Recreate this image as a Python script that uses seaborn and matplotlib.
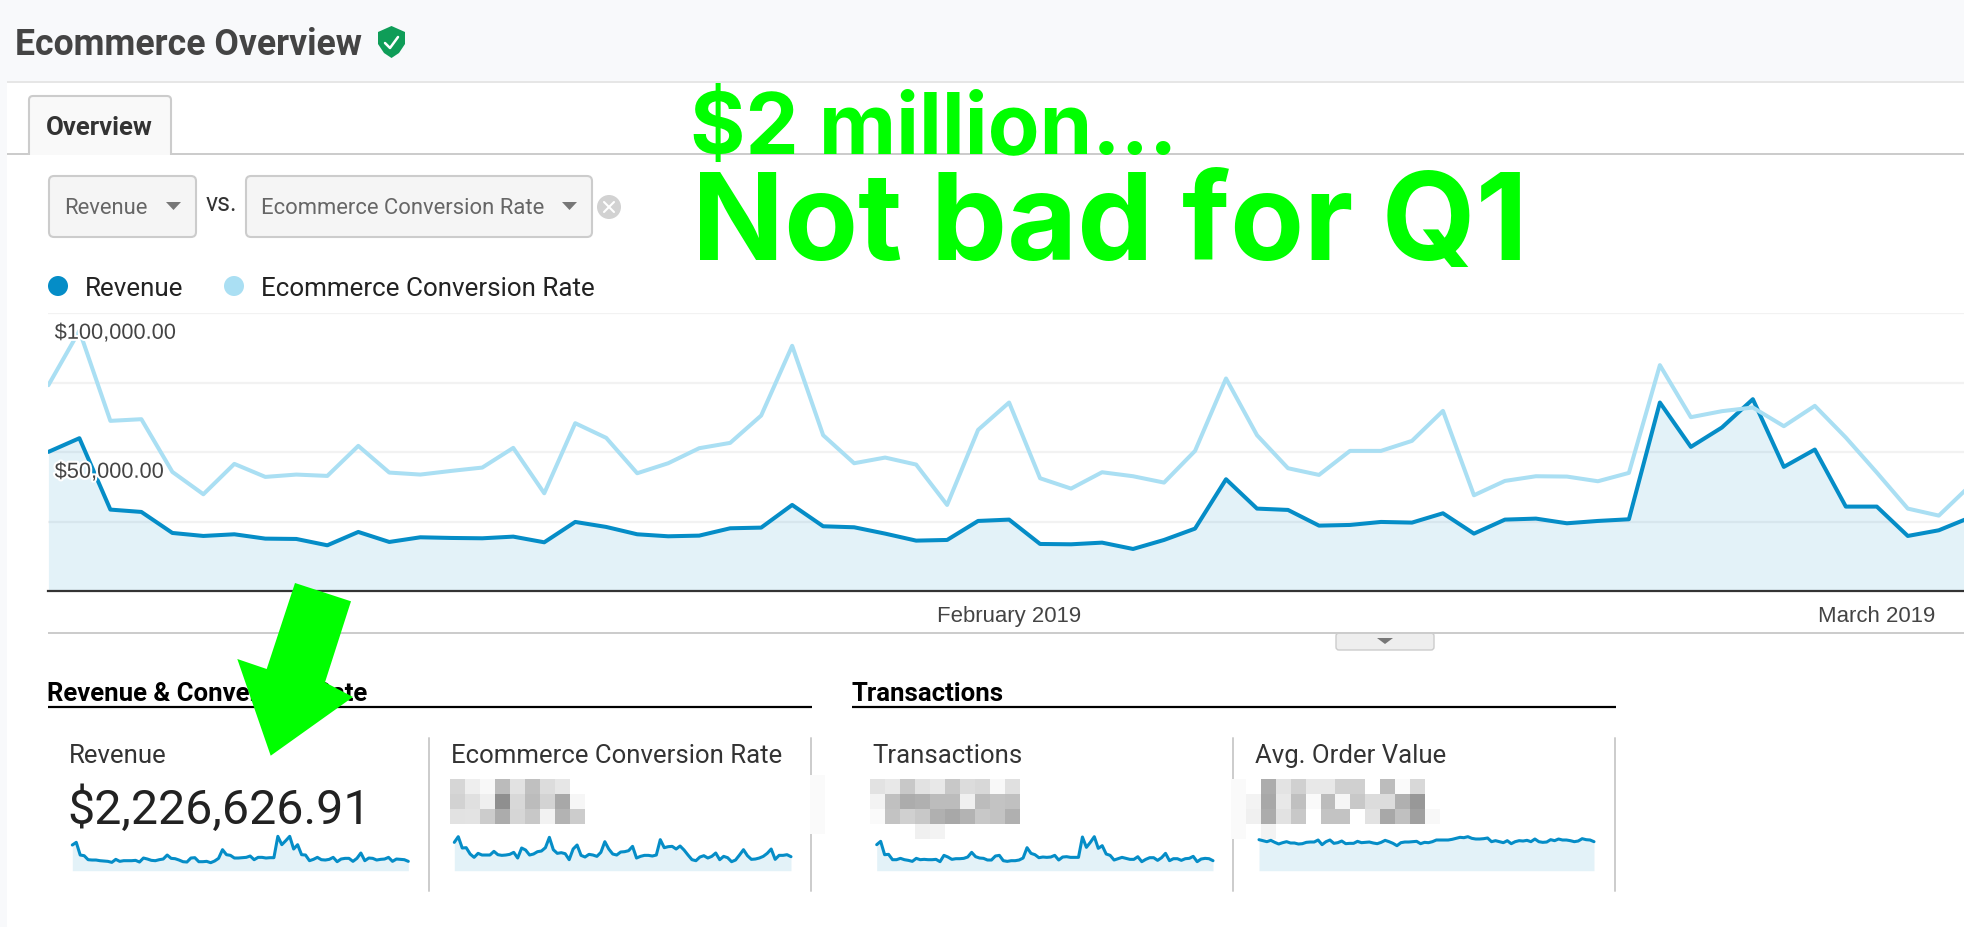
import numpy as np
import pandas as pd
import seaborn as sns
import matplotlib.pyplot as plt
import matplotlib.patheffects as pe
from matplotlib.patches import FancyBboxPatch, Polygon, Rectangle, Circle

W, H = 1965, 928

# main chart, one value per day from 1 Jan 2019
revenue = [50040, 54960, 29280, 28440, 20880, 19800, 20400, 18840, 18720, 16440,
           21240, 17640, 19320, 19080, 18960, 19560, 17520, 24840, 23040, 20400,
           19680, 19920, 22560, 22800, 30960, 23280, 22920, 20640, 18120, 18360,
           25200, 25680, 16920, 16800, 17400, 15120, 18360, 22440, 40200, 29640,
           29160, 23520, 23760, 24840, 24600, 27960, 20640, 25680, 26040, 24360,
           25200, 25800, 67800, 51840, 58800, 69000, 44640, 50880, 30360, 30360,
           19800, 21840, 26400]
# conversion rate has no visible axis, kept in the height of the revenue scale
conversion = [74040, 93600, 61200, 61800, 42840, 34800, 45720, 41040, 41880, 41400,
              52200, 42600, 41880, 43200, 44400, 51480, 35160, 60360, 55080, 42360,
              45960, 51360, 53280, 63120, 88200, 56040, 45960, 48000, 45480, 30960,
              57960, 67800, 40560, 36840, 42720, 41280, 39000, 50400, 76440, 56040,
              44160, 41760, 50400, 50400, 54000, 64800, 34440, 39600, 41280, 41160,
              39480, 42480, 81240, 62520, 64680, 66000, 59280, 66600, 55200, 42600,
              29640, 27120, 37800]

# sparklines, relative height only
spark_revenue = [77, 85, 47, 45, 33, 32, 32, 30, 29, 28, 25, 34, 28, 30, 30, 30, 31, 26, 38, 35,
                 31, 30, 33, 35, 47, 37, 36, 32, 27, 26, 38, 39, 27, 27, 28, 24, 29, 37, 63, 48,
                 46, 38, 38, 39, 40, 44, 33, 40, 40, 38, 39, 39, 103, 78, 90, 103, 65, 78, 48, 47,
                 30, 34, 40, 33, 32, 34, 40, 27, 35, 37, 37, 28, 37, 53, 30, 38, 37, 32, 34, 35,
                 40, 28, 35, 34, 33, 28]
spark_conversion = [85, 102, 68, 69, 50, 40, 52, 47, 47, 47, 58, 48, 46, 47, 49, 55, 38, 68, 62, 47,
                    50, 57, 59, 69, 100, 63, 52, 54, 51, 33, 65, 77, 46, 41, 49, 47, 43, 55, 87, 65,
                    50, 47, 56, 57, 60, 73, 38, 43, 46, 46, 44, 47, 93, 69, 72, 73, 65, 74, 62, 47,
                    33, 30, 41, 45, 38, 43, 53, 33, 43, 39, 27, 32, 47, 63, 45, 34, 35, 38, 43, 52,
                    65, 34, 46, 46, 48, 42]
spark_transactions = [78, 88, 48, 49, 33, 33, 37, 33, 31, 28, 37, 33, 34, 33, 33, 34, 27, 46, 41, 34,
                      36, 36, 37, 41, 55, 42, 38, 37, 32, 32, 44, 46, 30, 28, 30, 30, 32, 38, 69, 52,
                      48, 39, 41, 40, 41, 46, 32, 41, 42, 40, 40, 40, 101, 70, 85, 102, 67, 75, 50, 46,
                      32, 36, 40, 37, 34, 34, 42, 27, 34, 39, 39, 31, 39, 52, 30, 36, 36, 31, 36, 37,
                      43, 27, 35, 37, 36, 30]
spark_order_value = [93, 90, 87, 91, 85, 80, 84, 87, 83, 83, 80, 81, 85, 86, 86, 92, 78, 87, 92, 82,
                     84, 89, 81, 82, 82, 88, 84, 85, 86, 83, 81, 85, 91, 87, 82, 75, 84, 86, 86, 87,
                     88, 81, 85, 84, 87, 92, 92, 92, 92, 94, 97, 100, 99, 102, 97, 95, 95, 96, 98, 87,
                     90, 87, 84, 90, 81, 87, 90, 89, 91, 87, 95, 87, 85, 86, 93, 90, 95, 92, 92, 90,
                     87, 89, 96, 93, 92, 87]

# the blurred numbers under the card titles, grey level per block
blur_conversion = [[0xd6, 0xee, 0xf8, 0xbb, 0xe2, 0xc0, 0xdc, 0xe6, 0xff],
                   [0xd2, 0xe0, 0xef, 0x8f, 0xd8, 0xbc, 0xd4, 0xa8, 0xf6],
                   [0xe2, 0xe4, 0xcc, 0xac, 0xd6, 0xc8, 0xf2, 0xb4, 0xcc]]
blur_transactions = [[0xe2, 0xe8, 0xc8, 0xe2, 0xe8, 0xc8, 0xdc, 0xd8, 0xf8, 0xe0],
                     [0xf4, 0xc0, 0xac, 0xb0, 0xbc, 0xbc, 0xf0, 0xbc, 0xc4, 0xc0],
                     [0xfa, 0xc4, 0xd0, 0xc8, 0xb0, 0xa8, 0xb4, 0xc8, 0xc4, 0xb0],
                     [0xff, 0xff, 0xff, 0xf0, 0xf4, 0xff, 0xff, 0xff, 0xff, 0xff]]
blur_order_value = [[0xfa, 0xff, 0xac, 0xe4, 0xd0, 0xe8, 0xe8, 0xd0, 0xd0, 0xff, 0xbc, 0xfa, 0xd8, 0xff],
                    [0xfa, 0xf4, 0xa8, 0xe8, 0xc0, 0xfa, 0xbc, 0xf6, 0xc8, 0xdc, 0xdc, 0xb0, 0x98, 0xff],
                    [0xfa, 0xf0, 0xac, 0xe2, 0xc8, 0xff, 0xc4, 0xc4, 0xff, 0xe2, 0xa8, 0xc0, 0xa0, 0xf8],
                    [0xfa, 0xff, 0xf4, 0xff, 0xff, 0xff, 0xff, 0xff, 0xff, 0xff, 0xff, 0xff, 0xff, 0xff]]

BLUE = '#058dc7'
LIGHT = '#aadff3'
GREEN = '#00ff00'

sns.set_theme(style='white')
plt.rcParams['font.family'] = ['Roboto', 'DejaVu Sans']

fig = plt.figure(figsize=(W / 100, H / 100), dpi=100, facecolor='white')


def px_axes(x0, y0, x1, y1, zorder=1):
    # axes from pixel box, y counted from the top
    return fig.add_axes([x0 / W, 1 - y1 / H, (x1 - x0) / W, (y1 - y0) / H], zorder=zorder)


def hline(ax, x0, x1, y, color, lw=2, **kw):
    ax.plot([x0, x1], [y, y], color=color, lw=lw * 0.72, solid_capstyle='butt', **kw)


page = px_axes(0, 0, W, H, zorder=0)
page.set_xlim(0, W)
page.set_ylim(H, 0)
page.axis('off')
top = px_axes(0, 0, W, H, zorder=3)
top.set_xlim(0, W)
top.set_ylim(H, 0)
top.axis('off')


def label(x, y, s, size, color='#333333', weight='normal', ax=page, **kw):
    ax.text(x, y, s, fontsize=size, color=color, fontweight=weight, va='center', ha='left', **kw)


# page background and header
page.add_patch(Rectangle((0, 0), W, H, fc='#f8f9fb', ec='none'))
page.add_patch(Rectangle((7, 82), W, H, fc='white', ec='none'))
hline(page, 7, W, 82.5, '#e6e6e6', 2)
label(15, 45, 'Ecommerce Overview', 25.7, '#444444', 'bold')
page.add_patch(Polygon([(391.5, 27), (405, 33), (405, 45), (399, 54), (391.5, 59), (384, 54), (378, 45), (378, 33)],
                       fc='#0f9d58', ec='none'))
page.plot([385, 390, 398], [44, 49, 38], color='white', lw=1.8)

# tab
page.add_patch(FancyBboxPatch((29, 97), 142, 68, boxstyle='round,pad=0,rounding_size=4', fc='#f9f9f9', ec='#cccccc', lw=1.5))
page.add_patch(Rectangle((20, 156), 160, 16, fc='white', ec='none', zorder=2))
label(46, 128, 'Overview', 18.5, '#333333', 'bold')

# dropdowns
for x0, x1, text, ax0 in [(49, 196, 'Revenue', 166), (246, 592, 'Ecommerce Conversion Rate', 562)]:
    page.add_patch(FancyBboxPatch((x0, 177), x1 - x0, 61, boxstyle='round,pad=0,rounding_size=5',
                                  fc='#f5f5f5', ec='#cccccc', lw=1.5))
    label(x0 + 15, 209, text, 15.8, '#666666')
    page.add_patch(Polygon([(ax0, 203), (ax0 + 15, 203), (ax0 + 7.5, 211)], fc='#777777', ec='none'))
label(206, 204, 'vs.', 18, '#333333')
page.add_patch(Circle((609, 208), 12, fc='#d2d2d2', ec='none'))
page.plot([604, 614], [203, 213], color='white', lw=1.5)
page.plot([604, 614], [213, 203], color='white', lw=1.5)

# legend
page.add_patch(Circle((58, 287), 10, fc=BLUE, ec='none'))
label(85, 289, 'Revenue', 18.7, '#222222')
page.add_patch(Circle((234, 287), 10, fc=LIGHT, ec='none'))
label(261, 289, 'Ecommerce Conversion Rate', 18.7, '#222222')

# main chart
day_px = 30.99
dates = pd.date_range('2019-01-01', periods=len(revenue))
df = pd.DataFrame({'date': dates, 'Revenue': revenue, 'Conversion': conversion})
ax = px_axes(48.4, 314, W, 592, zorder=1)
ax.patch.set_alpha(0)
ax.fill_between(df['date'], df['Revenue'], color=BLUE, alpha=0.11, lw=0, zorder=2)
sns.lineplot(data=df, x='date', y='Revenue', ax=ax, color=BLUE, lw=2.9, errorbar=None, zorder=3)
sns.lineplot(data=df, x='date', y='Conversion', ax=ax, color=LIGHT, lw=2.9, errorbar=None, zorder=4)
ax.set_xlim(dates[0], dates[0] + pd.Timedelta(days=(W - 48.4) / day_px))
ax.set_ylim(0, 100000)
ax.set_xlabel('')
ax.set_ylabel('')
ax.set_yticks([0, 25000, 50000, 75000, 100000])
ax.set_yticklabels([])
ax.grid(axis='y', color='#f2f2f2', lw=1.6, zorder=1)
ax.grid(axis='x', visible=False)
ax.set_xticks([pd.Timestamp('2019-02-01'), pd.Timestamp('2019-03-01')])
ax.set_xticklabels(['February 2019', 'March 2019'], fontsize=15.9, color='#444444', family='Liberation Sans')
ax.tick_params(axis='both', length=0)
ax.tick_params(axis='x', pad=10)
for name, spine in ax.spines.items():
    spine.set_visible(name == 'bottom')
ax.spines['bottom'].set_color('#333333')
ax.spines['bottom'].set_linewidth(1.6)
ax.spines['bottom'].set_zorder(6)
for value, text in [(100000, '$100,000.00'), (50000, '$50,000.00')]:
    ax.annotate(text, xy=(0, value), xycoords=('axes fraction', 'data'), xytext=(4.5, -14.6),
                textcoords='offset points', va='center', fontsize=15.7, color='#444444',
                family='Liberation Sans', zorder=7, path_effects=[pe.withStroke(linewidth=3, foreground='white')])

# strip under the chart
hline(page, 48, W, 634, '#cccccc', 2)
page.add_patch(FancyBboxPatch((1336, 634), 98, 17, boxstyle='round,pad=0,rounding_size=3', fc='#eeeeee', ec='#cccccc', lw=1))
page.add_patch(Polygon([(1377, 639), (1393, 639), (1385, 645)], fc='#777777', ec='none'))

# scorecards
label(47.5, 694, 'Revenue & Conversion Rate', 18.5, '#000000', 'bold')
hline(page, 48, 812, 708, '#000000', 2.2)
label(852, 694, 'Transactions', 18.5, '#000000', 'bold')
hline(page, 852, 1616, 708, '#000000', 2.2)
for x in [429, 811, 1233, 1615]:
    page.plot([x, x], [739, 892], color='#cccccc', lw=1.4)
page.add_patch(Rectangle((810, 776), 15, 59, fc='#fafafa', ec='none', zorder=2))
label(69.3, 756, 'Revenue', 18.5, '#333333')
label(451, 756, 'Ecommerce Conversion Rate', 18.5, '#333333')
label(872, 756, 'Transactions', 18.5, '#333333')
label(1254.6, 756, 'Avg. Order Value', 18.5, '#333333')
label(67.5, 810, '$2,226,626.91', 34.8, '#222222')

for blocks, x0, x1 in [(blur_conversion, 450, 585), (blur_transactions, 870, 1020), (blur_order_value, 1231.3, 1440)]:
    rows = len(blocks)
    page.imshow(np.array(blocks), cmap='gray', vmin=0, vmax=255, extent=(x0, x1, 780 + 15 * rows, 780),
                aspect='auto', interpolation='nearest', zorder=3)
page.set_xlim(0, W)
page.set_ylim(H, 0)

for values, x0, x1 in [(spark_revenue, 72.3, 408.3), (spark_conversion, 454.3, 791),
                       (spark_transactions, 876.7, 1213), (spark_order_value, 1259, 1594)]:
    spark = px_axes(x0, 830, x1, 871.7, zorder=2)
    spark.patch.set_alpha(0)
    sp = pd.DataFrame({'day': range(len(values)), 'value': values})
    spark.fill_between(sp['day'], sp['value'], color=BLUE, alpha=0.11, lw=0)
    sns.lineplot(data=sp, x='day', y='value', ax=spark, color=BLUE, lw=2.2, errorbar=None, clip_on=False)
    spark.set_xlim(0, len(values) - 1)
    spark.set_ylim(0, 125)
    spark.axis('off')

# green overlay
top.add_patch(Polygon([(295, 584), (351, 602.3), (325, 683.3), (353, 698), (270.7, 756.7),
                       (237.3, 660), (266.7, 670)], fc=GREEN, ec='none'))
top.text(690, 154, '$2 million...', fontsize=61, color=GREEN, fontweight='bold', va='baseline', family='Inter')
top.text(692, 260, 'Not bad for Q1', fontsize=87, color=GREEN, fontweight='bold', va='baseline', family='Inter')
hline(top, 7, 29, 155, '#cccccc', 2)
hline(top, 171, W, 155, '#cccccc', 2)

fig.savefig('out.png', dpi=100)
